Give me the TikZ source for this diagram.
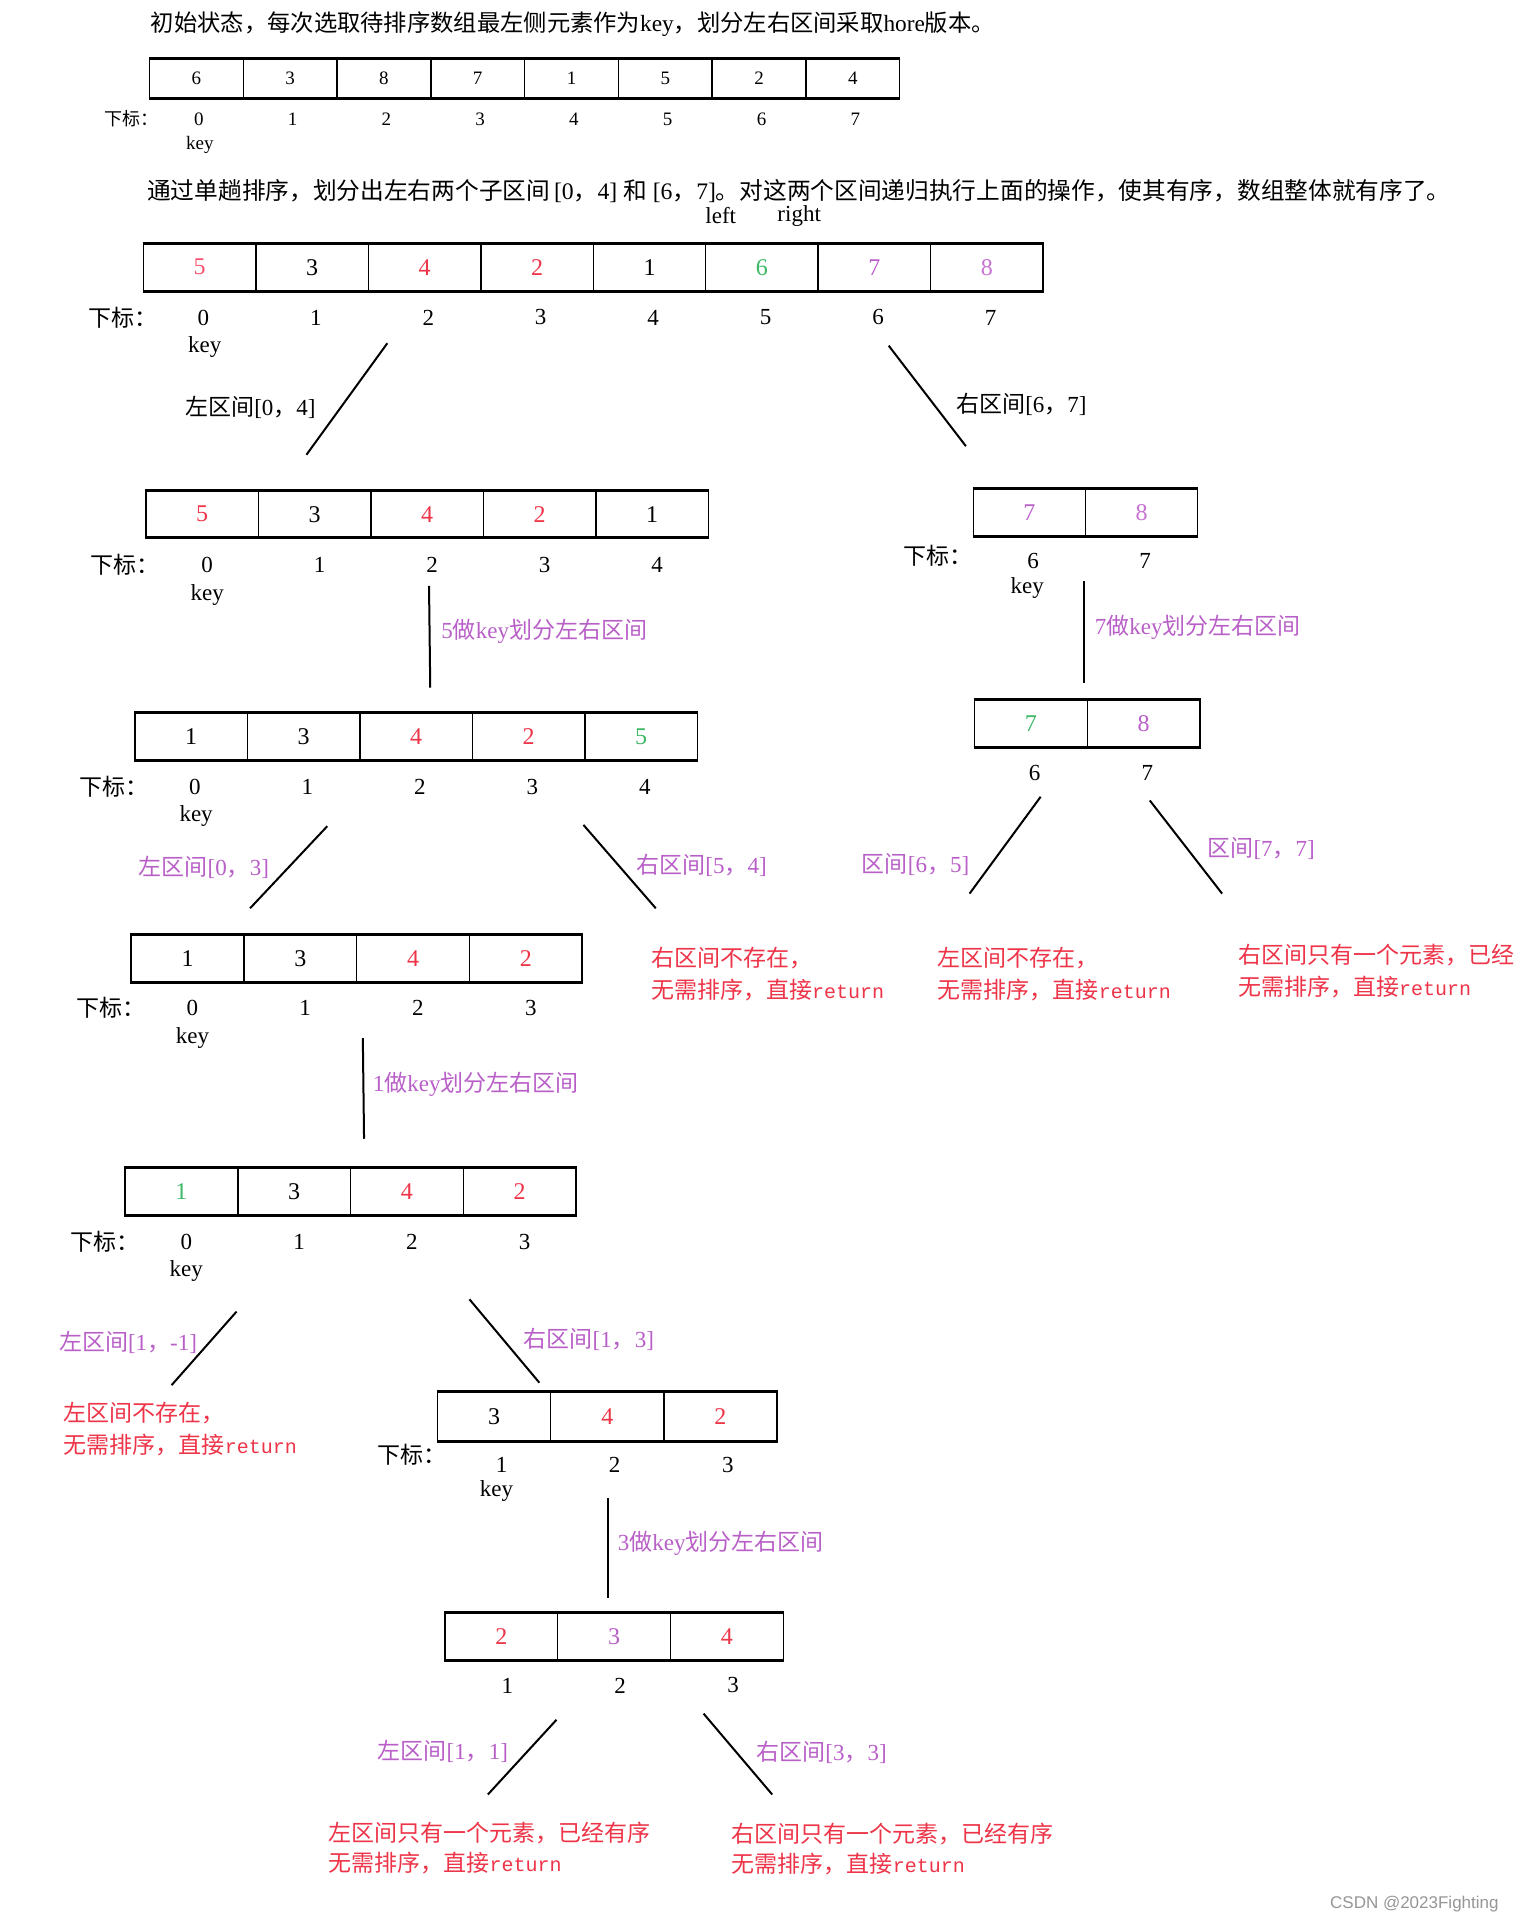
\documentclass[tikz,border=0pt]{standalone}
\usepackage{fontspec}
\setmainfont{Liberation Serif}
\newfontfamily\cjk{Noto Sans CJK SC}
\newfontfamily\wmfont{Liberation Sans}
\newfontfamily\monofnt{Liberation Mono}
\newcommand\C[1]{{\cjk #1}}
\newcommand\ret{{\monofnt\fontsize{20}{24}\selectfont return}}
\definecolor{myred}{RGB}{238,52,72}
\definecolor{mypink}{RGB}{250,82,110}
\definecolor{mypurple}{RGB}{185,95,200}
\definecolor{lpurple}{RGB}{200,115,210}
\definecolor{mygreen}{RGB}{60,185,100}
\definecolor{wmgray}{RGB}{150,150,150}
\tikzset{
  cell/.style={draw, line width=1.5pt, inner sep=0pt},
  lbl/.style={anchor=west, inner sep=0pt, font=\fontsize{23}{28}\selectfont},
  plbl/.style={lbl, text=mypurple},
  rlbl/.style={lbl, text=myred},
  idx/.style={inner sep=0pt, font=\fontsize{23}{28}\selectfont},
  sidx/.style={inner sep=0pt, font=\fontsize{19}{23}\selectfont},
  link/.style={line width=2pt},
}
% name, n, x, y, w, h, list(color/value), fontsize
\newcommand\drawarr[8]{%
  \foreach \cc/\vv [count=\ii] in {#7}{
    \node[cell, minimum width=#5*1.2259pt, minimum height=#6*1.2259pt, text=\cc,
      font=\fontsize{#8}{#8}\selectfont] (#1-\ii) at ({#3+(\ii-0.5)*#5},{#4+#6/2}) {\vv};
  }
  \draw[line width=3pt] (#1-1.north west) -- (#1-#2.north east);
  \draw[line width=3pt] (#1-1.south west) -- (#1-#2.south east);
}
% name, x0, w, y, dx, list, style
\newcommand\idxrow[7]{%
  \foreach \vv [count=\ii] in {#6}{
    \node[#7] (#1-i\ii) at ({#2+(\ii-0.5)*#3+#5},#4) {\vv};
  }
}
\begin{document}
\begin{tikzpicture}[x=1.2259pt, y=-1.2259pt]
\useasboundingbox (0,0) rectangle (1235,1568);
\fill[white] (0,0) rectangle (1235,1568);

% ---------- title 1 and array 1
\node[lbl, font=\fontsize{23.3}{27}\selectfont] (t1) at (123,20)
  {\C{初始状态，每次选取待排序数组最左侧元素作为}key\C{，划分左右区间采取}hore\C{版本。}};
\drawarr{a}{8}{122}{48}{76.5}{32}{black/6,black/3,black/8,black/7,black/1,black/5,black/2,black/4}{19}
\idxrow{a}{122}{76.5}{97}{2}{0,1,2,3,4,5,6,7}{sidx}
\node[lbl, font=\fontsize{18}{22}\selectfont] (a-xb) at (85,97) {\C{下标：}};
\node[sidx] (a-key) at (163,118) {key};

% ---------- title 2 and array 2
\node[lbl, font=\fontsize{23.7}{28}\selectfont] (t2) at (120,156)
  {\C{通过单趟排序，划分出左右两个子区间}\,[0\C{，}4]\ \C{和}\ [6\C{，}7]\C{。对这两个区间递归执行上面的操作，使其有序，数组整体就有序了。}};
\node[idx] (t2l) at (588,176) {left};
\node[idx] (t2r) at (652,176) {right};
\drawarr{b}{8}{117}{199}{91.75}{38}{mypink/5,black/3,myred/4,myred/2,black/1,mygreen/6,mypurple/7,lpurple/8}{24}
\idxrow{b}{117}{91.75}{259}{3}{0,1,2,3,4,5,6,7}{idx}
\node[lbl] (b-xb) at (72,259) {\C{下标：}};
\node[idx] (b-key) at (167,283) {key};

\coordinate (b-l1) at (316,280); \coordinate (b-l2) at (250,371);
\coordinate (b-r1) at (725,282); \coordinate (b-r2) at (788,364);
\draw[link] (b-l1) -- (b-l2);
\draw[link] (b-r1) -- (b-r2);
\node[lbl] (b-ll) at (151,332) {\C{左区间}[0\C{，}4]};
\node[lbl] (b-rl) at (780,330) {\C{右区间}[6\C{，}7]};

% ---------- array 3 (left)
\drawarr{c}{5}{119}{401}{91.8}{37}{myred/5,black/3,myred/4,myred/2,black/1}{24}
\idxrow{c}{119}{91.8}{461}{4}{0,1,2,3,4}{idx}
\node[lbl] (c-xb) at (74,461) {\C{下标：}};
\node[idx] (c-key) at (169,485) {key};
\coordinate (c-v1) at (350,478); \coordinate (c-v2) at (351,561);
\draw[link] (c-v1) -- (c-v2);
\node[plbl] (c-vl) at (360,515) {5\C{做}key\C{划分左右区间}};

% ---------- array 4 (right)
\drawarr{d}{2}{794}{399}{91.5}{38}{mypurple/7,lpurple/8}{24}
\idxrow{d}{794}{91.5}{458}{3}{6,7}{idx}
\node[lbl] (d-xb) at (737,453) {\C{下标：}};
\node[idx] (d-key) at (838,480) {key};
\coordinate (d-v1) at (884,474); \coordinate (d-v2) at (884,557);
\draw[link] (d-v1) -- (d-v2);
\node[plbl] (d-vl) at (893,512) {7\C{做}key\C{划分左右区间}};

% ---------- array 5
\drawarr{e}{5}{110}{582}{91.8}{38}{black/1,black/3,myred/4,myred/2,mygreen/5}{24}
\idxrow{e}{110}{91.8}{642}{3}{0,1,2,3,4}{idx}
\node[lbl] (e-xb) at (65,642) {\C{下标：}};
\node[idx] (e-key) at (160,666) {key};
\coordinate (e-l1) at (267,674); \coordinate (e-l2) at (204,741);
\coordinate (e-r1) at (476,673); \coordinate (e-r2) at (535,741);
\draw[link] (e-l1) -- (e-l2);
\draw[link] (e-r1) -- (e-r2);
\node[plbl] (e-ll) at (113,708) {\C{左区间}[0\C{，}3]};
\node[plbl] (e-rl) at (519,706) {\C{右区间}[5\C{，}4]};
\node[rlbl] (e-r1t) at (531,782) {\C{右区间不存在，}};
\node[rlbl] (e-r2t) at (531,808) {\C{无需排序，直接}\ret};

% ---------- array 6
\drawarr{f}{2}{795}{571}{92}{38}{mygreen/7,mypurple/8}{24}
\idxrow{f}{795}{92}{631}{3}{6,7}{idx}
\coordinate (f-l1) at (849,650); \coordinate (f-l2) at (791,729);
\coordinate (f-r1) at (938,653); \coordinate (f-r2) at (997,729);
\draw[link] (f-l1) -- (f-l2);
\draw[link] (f-r1) -- (f-r2);
\node[plbl] (f-ll) at (703,705) {\C{区间}[6\C{，}5]};
\node[plbl] (f-rl) at (985,692) {\C{区间}[7\C{，}7]};
\node[rlbl] (f-a1) at (765,782) {\C{左区间不存在，}};
\node[rlbl] (f-a2) at (765,808) {\C{无需排序，直接}\ret};
\node[rlbl] (f-b1) at (1010,779) {\C{右区间只有一个元素，已经}};
\node[rlbl] (f-b2) at (1010,805) {\C{无需排序，直接}\ret};

% ---------- array 7
\drawarr{g}{4}{107}{763}{92}{38}{black/1,black/3,myred/4,myred/2}{24}
\idxrow{g}{107}{92}{822}{4}{0,1,2,3}{idx}
\node[lbl] (g-xb) at (62,822) {\C{下标：}};
\node[idx] (g-key) at (157,847) {key};
\coordinate (g-v1) at (296,847); \coordinate (g-v2) at (297,929);
\draw[link] (g-v1) -- (g-v2);
\node[plbl] (g-vl) at (304,885) {1\C{做}key\C{划分左右区间}};

% ---------- array 8
\drawarr{h}{4}{102}{953}{92}{38}{mygreen/1,black/3,myred/4,myred/2}{24}
\idxrow{h}{102}{92}{1013}{4}{0,1,2,3}{idx}
\node[lbl] (h-xb) at (57,1013) {\C{下标：}};
\node[idx] (h-key) at (152,1037) {key};
\coordinate (h-l1) at (193,1070); \coordinate (h-l2) at (140,1130);
\coordinate (h-r1) at (383,1060); \coordinate (h-r2) at (440,1128);
\draw[link] (h-l1) -- (h-l2);
\draw[link] (h-r1) -- (h-r2);
\node[plbl] (h-ll) at (48,1095) {\C{左区间}[1\C{，}-1]};
\node[plbl] (h-rl) at (427,1093) {\C{右区间}[1\C{，}3]};
\node[rlbl] (h-a1) at (52,1153) {\C{左区间不存在，}};
\node[rlbl] (h-a2) at (52,1179) {\C{无需排序，直接}\ret};

% ---------- array 9
\drawarr{i}{3}{357}{1136}{92.3}{39}{black/3,myred/4,myred/2}{24}
\idxrow{i}{357}{92.3}{1195}{6}{1,2,3}{idx}
\node[lbl] (i-xb) at (308,1187) {\C{下标：}};
\node[idx] (i-key) at (405,1216) {key};
\coordinate (i-v1) at (496,1222); \coordinate (i-v2) at (496,1304);
\draw[link] (i-v1) -- (i-v2);
\node[plbl] (i-vl) at (504,1259) {3\C{做}key\C{划分左右区间}};

% ---------- array 10
\drawarr{j}{3}{363}{1316}{92}{38}{myred/2,mypurple/3,myred/4}{24}
\idxrow{j}{363}{92}{1375}{5}{1,2,3}{idx}
\coordinate (j-l1) at (454,1403); \coordinate (j-l2) at (398,1464);
\coordinate (j-r1) at (574,1398); \coordinate (j-r2) at (630,1464);
\draw[link] (j-l1) -- (j-l2);
\draw[link] (j-r1) -- (j-r2);
\node[plbl] (j-ll) at (308,1429) {\C{左区间}[1\C{，}1]};
\node[plbl] (j-rl) at (617,1430) {\C{右区间}[3\C{，}3]};
\node[rlbl] (j-a1) at (268,1495) {\C{左区间只有一个元素，已经有序}};
\node[rlbl] (j-a2) at (268,1520) {\C{无需排序，直接}\ret};
\node[rlbl] (j-b1) at (597,1496) {\C{右区间只有一个元素，已经有序}};
\node[rlbl] (j-b2) at (597,1521) {\C{无需排序，直接}\ret};

% ---------- watermark
\node[anchor=west, inner sep=0pt, text=wmgray, font=\wmfont\fontsize{17}{20}\selectfont] (wm) at (1085,1553) {CSDN @2023Fighting};
\end{tikzpicture}
\end{document}
